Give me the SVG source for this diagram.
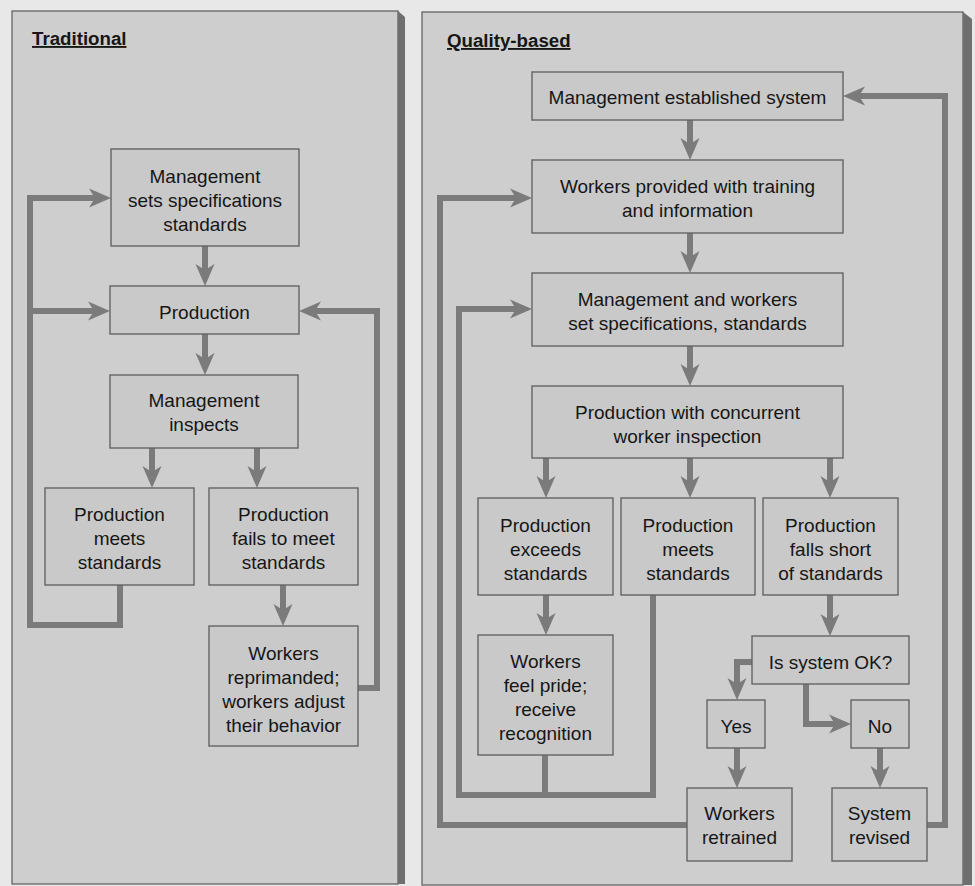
<svg xmlns="http://www.w3.org/2000/svg" width="975" height="886" viewBox="0 0 975 886">
  <defs>
    <style>
      .panel { fill: #cecece; stroke: #5a5a5a; stroke-width: 1.2; }
      .shade { fill: #6f6f6f; }
      .box { fill: #c9c9c9; stroke: #646464; stroke-width: 1.4; }
      .lbl { font-family: "Liberation Sans", Arial, sans-serif; font-size: 19px; fill: #161616; text-anchor: middle; }
      .title { font-family: "Liberation Sans", Arial, sans-serif; font-size: 18.7px; font-weight: bold; fill: #161616; text-decoration: underline; }
      .wire { fill: none; stroke: #7b7b7b; stroke-width: 6; stroke-linejoin: miter; stroke-linecap: butt; }
      .arrow { marker-end: url(#head); }
    </style>
    <marker id="head" markerUnits="userSpaceOnUse" viewBox="-14 -11 26 22" refX="0" refY="0" markerWidth="26" markerHeight="22" orient="auto">
      <path d="M10,0 L-12,-9.5 L-6,0 L-12,9.5 Z" fill="#7b7b7b"/>
    </marker>
  </defs>

  <!-- page -->
  <rect x="0" y="0" width="975" height="886" fill="#e8e8e8"/>

  <!-- panels -->
  <g id="panel-traditional">
    <rect class="panel" x="12" y="11" width="386" height="873"/>
    <polygon class="shade" points="398,11 405,17 405,884 398,884"/>
    <text class="title" x="32" y="45">Traditional</text>
  </g>
  <g id="panel-quality">
    <rect class="panel" x="422" y="12" width="541" height="873"/>
    <polygon class="shade" points="963,12 972,19 972,885 963,885"/>
    <text class="title" x="447" y="47">Quality-based</text>
  </g>

  <!-- connectors -->
  <g id="connectors">
    <!-- traditional flow -->
    <path class="wire arrow" d="M205,246 V276"/>
    <path class="wire arrow" d="M205,334 V365"/>
    <path class="wire arrow" d="M152,448 V478"/>
    <path class="wire arrow" d="M257,448 V478"/>
    <path class="wire arrow" d="M283,585 V616"/>
    <path class="wire arrow" d="M120,585 V625 H30 V198 H101"/>
    <path class="wire arrow" d="M30,311 H100"/>
    <path class="wire arrow" d="M358,688 H377 V311 H309"/>

    <!-- quality-based flow -->
    <path class="wire arrow" d="M690,120 V150"/>
    <path class="wire arrow" d="M690,233 V263"/>
    <path class="wire arrow" d="M690,346 V376"/>
    <path class="wire arrow" d="M546,458 V488"/>
    <path class="wire arrow" d="M690,458 V488"/>
    <path class="wire arrow" d="M830,458 V488"/>
    <path class="wire arrow" d="M546,595 V625"/>
    <path class="wire arrow" d="M830,595 V626"/>
    <path class="wire arrow" d="M653,595 V795 H459 V309 H522"/>
    <path class="wire" d="M545,755 V795"/>
    <path class="wire arrow" d="M687,825 H440 V198 H522"/>
    <path class="wire arrow" d="M927,825 H945 V96 H853"/>
    <path class="wire arrow" d="M752,662 H737 V690"/>
    <path class="wire arrow" d="M806,684 V724 H841"/>
    <path class="wire arrow" d="M737,748 V778"/>
    <path class="wire arrow" d="M880,748 V778"/>
  </g>

  <!-- traditional nodes -->
  <g id="t-mgmt-sets">
    <rect class="box" x="111" y="149" width="188" height="97"/>
    <text class="lbl" x="205" y="183">Management</text>
    <text class="lbl" x="205" y="207">sets specifications</text>
    <text class="lbl" x="205" y="231">standards</text>
  </g>
  <g id="t-production">
    <rect class="box" x="110" y="286" width="189" height="48"/>
    <text class="lbl" x="204.5" y="319">Production</text>
  </g>
  <g id="t-mgmt-inspects">
    <rect class="box" x="110" y="375" width="188" height="73"/>
    <text class="lbl" x="204" y="407">Management</text>
    <text class="lbl" x="204" y="431">inspects</text>
  </g>
  <g id="t-meets">
    <rect class="box" x="45" y="488" width="149" height="97"/>
    <text class="lbl" x="119.5" y="521">Production</text>
    <text class="lbl" x="119.5" y="545">meets</text>
    <text class="lbl" x="119.5" y="569">standards</text>
  </g>
  <g id="t-fails">
    <rect class="box" x="209" y="488" width="149" height="97"/>
    <text class="lbl" x="283.5" y="521">Production</text>
    <text class="lbl" x="283.5" y="545">fails to meet</text>
    <text class="lbl" x="283.5" y="569">standards</text>
  </g>
  <g id="t-reprimanded">
    <rect class="box" x="209" y="626" width="149" height="120"/>
    <text class="lbl" x="283.5" y="660">Workers</text>
    <text class="lbl" x="283.5" y="684">reprimanded;</text>
    <text class="lbl" x="283.5" y="708">workers adjust</text>
    <text class="lbl" x="283.5" y="732">their behavior</text>
  </g>

  <!-- quality-based nodes -->
  <g id="q-mgmt-system">
    <rect class="box" x="532" y="72" width="311" height="48"/>
    <text class="lbl" x="687.5" y="104">Management established system</text>
  </g>
  <g id="q-training">
    <rect class="box" x="532" y="160" width="311" height="73"/>
    <text class="lbl" x="687.5" y="193">Workers provided with training</text>
    <text class="lbl" x="687.5" y="217">and information</text>
  </g>
  <g id="q-set-specs">
    <rect class="box" x="532" y="273" width="311" height="73"/>
    <text class="lbl" x="687.5" y="306">Management and workers</text>
    <text class="lbl" x="687.5" y="330">set specifications, standards</text>
  </g>
  <g id="q-production">
    <rect class="box" x="532" y="386" width="311" height="72"/>
    <text class="lbl" x="687.5" y="419">Production with concurrent</text>
    <text class="lbl" x="687.5" y="443">worker inspection</text>
  </g>
  <g id="q-exceeds">
    <rect class="box" x="478" y="498" width="135" height="97"/>
    <text class="lbl" x="545.5" y="532">Production</text>
    <text class="lbl" x="545.5" y="556">exceeds</text>
    <text class="lbl" x="545.5" y="580">standards</text>
  </g>
  <g id="q-meets">
    <rect class="box" x="621" y="498" width="134" height="97"/>
    <text class="lbl" x="688" y="532">Production</text>
    <text class="lbl" x="688" y="556">meets</text>
    <text class="lbl" x="688" y="580">standards</text>
  </g>
  <g id="q-falls-short">
    <rect class="box" x="763" y="498" width="135" height="97"/>
    <text class="lbl" x="830.5" y="532">Production</text>
    <text class="lbl" x="830.5" y="556">falls short</text>
    <text class="lbl" x="830.5" y="580">of standards</text>
  </g>
  <g id="q-pride">
    <rect class="box" x="478" y="635" width="135" height="120"/>
    <text class="lbl" x="545.5" y="668">Workers</text>
    <text class="lbl" x="545.5" y="692">feel pride;</text>
    <text class="lbl" x="545.5" y="716">receive</text>
    <text class="lbl" x="545.5" y="740">recognition</text>
  </g>
  <g id="q-system-ok">
    <rect class="box" x="752" y="636" width="157" height="48"/>
    <text class="lbl" x="830.5" y="669">Is system OK?</text>
  </g>
  <g id="q-yes">
    <rect class="box" x="707" y="700" width="58" height="48"/>
    <text class="lbl" x="736" y="733">Yes</text>
  </g>
  <g id="q-no">
    <rect class="box" x="851" y="700" width="58" height="48"/>
    <text class="lbl" x="880" y="733">No</text>
  </g>
  <g id="q-retrained">
    <rect class="box" x="687" y="788" width="105" height="73"/>
    <text class="lbl" x="739.5" y="820">Workers</text>
    <text class="lbl" x="739.5" y="844">retrained</text>
  </g>
  <g id="q-revised">
    <rect class="box" x="832" y="788" width="95" height="73"/>
    <text class="lbl" x="879.5" y="820">System</text>
    <text class="lbl" x="879.5" y="844">revised</text>
  </g>
</svg>
